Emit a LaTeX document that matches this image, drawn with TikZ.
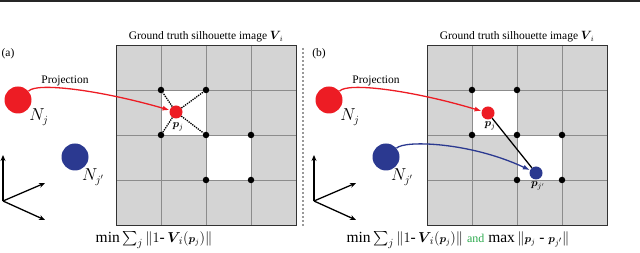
\documentclass[tikz,border=0pt]{standalone}
\usepackage{amsmath}
\usepackage{fontspec}
\setmainfont{Liberation Serif}
\usetikzlibrary{positioning, arrows.meta}
\definecolor{ptred}{HTML}{ED1C24}
\definecolor{ptblue}{HTML}{2B3990}
\definecolor{andgreen}{HTML}{2DAA4F}
\definecolor{cellgray}{HTML}{D4D4D4}
\begin{document}
\begin{tikzpicture}[x=1pt, y=-1pt, font=\fontsize{11.5}{13}\selectfont, bignode/.style={circle, minimum size=27pt, inner sep=0pt}, smallpt/.style={circle, minimum size=13pt, inner sep=0pt}, corner/.style={circle, fill=black, minimum size=6.5pt, inner sep=0pt}, gridline/.style={draw=black!45, line width=0.6pt}, proj/.style={-{Latex[length=7pt, width=5pt]}, line width=1.3pt}, axis/.style={-{Stealth[length=6pt, width=5pt]}, line width=1.3pt}, lab/.style={font=\fontsize{16}{18}\selectfont}, plab/.style={font=\fontsize{11}{12}\selectfont}, formula/.style={font=\fontsize{15.5}{17}\selectfont}]
\useasboundingbox (0,0) rectangle (640,253);
\draw[line width=1.6pt, black!85] (0,0.8) -- (640,0.8);
% panel (a)
\node at (8,54) {(a)};
\node (titlea) at (206,37) {Ground truth silhouette image $\boldsymbol{V}_{\!i}$};
\fill[cellgray] (116,45) rectangle (296,225);
\fill[white] (161,90) rectangle (206,135);
\fill[white] (206,135) rectangle (251,180);
\foreach \g in {161,206,251} \draw[gridline] (\g,45) -- (\g,225);
\foreach \g in {90,135,180} \draw[gridline] (116,\g) -- (296,\g);
\draw[line width=0.9pt, black!80] (116,45) rectangle (296,225);
\node[corner] (c1a) at (161,90) {};
\node[corner] (c2a) at (206,90) {};
\node[corner] (c3a) at (161,135) {};
\node[corner] (c4a) at (206,135) {};
\node[corner] (c5a) at (251,135) {};
\node[corner] (c6a) at (206,180) {};
\node[corner] (c7a) at (251,180) {};
\node[smallpt, fill=ptred] (pja) at (176,112) {};
\foreach \c in {c1a,c2a,c3a,c4a} \draw[densely dotted, line width=1.3pt] (pja) -- (\c);
\node[plab] at (178,127) {$\boldsymbol{p}_j$};
\node[bignode, fill=ptred] (Nja) at (18,100) {};
\node[lab] at (39,117) {$N_j$};
\node[bignode, fill=ptblue] (Njpa) at (75,157) {};
\node[lab] at (93,177) {$N_{j'}$};
\node at (65,81) {Projection};
\draw[proj, ptred] (Nja.40) .. controls (36,82) and (100,90) .. (pja);
\coordinate (Oa) at (3,201);
\coordinate (za) at (3,155);
\coordinate (xa) at (45,183);
\coordinate (ya) at (45,220);
\draw[axis] (Oa) -- (za);
\draw[axis] (Oa) -- (xa);
\draw[axis] (Oa) -- (ya);
\node[formula] at (154,240) {$\min\sum_j\|1\text{-}\,\boldsymbol{V}_{\!i}({\scriptstyle\boldsymbol{p}_j})\|$};
% separator
\draw[black!40, dotted, line width=2pt] (303,48) -- (303,226);
% panel (b)
\node at (319,54) {(b)};
\node (titleb) at (517,37) {Ground truth silhouette image $\boldsymbol{V}_{\!i}$};
\fill[cellgray] (427,45) rectangle (607,225);
\fill[white] (472,90) rectangle (517,135);
\fill[white] (517,135) rectangle (562,180);
\foreach \g in {472,517,562} \draw[gridline] (\g,45) -- (\g,225);
\foreach \g in {90,135,180} \draw[gridline] (427,\g) -- (607,\g);
\draw[line width=0.9pt, black!80] (427,45) rectangle (607,225);
\node[corner] (c1b) at (472,90) {};
\node[corner] (c2b) at (517,90) {};
\node[corner] (c3b) at (472,135) {};
\node[corner] (c4b) at (517,135) {};
\node[corner] (c5b) at (562,135) {};
\node[corner] (c6b) at (517,180) {};
\node[corner] (c7b) at (562,180) {};
\node[smallpt, fill=ptred] (pjb) at (488,113) {};
\node[smallpt, fill=ptblue] (pjpb) at (536,173) {};
\draw[line width=1.3pt] (pjb) -- (pjpb);
\node[plab] at (490,126) {$\boldsymbol{p}_j$};
\node[plab] at (538,186) {$\boldsymbol{p}_{j'}$};
\node[bignode, fill=ptred] (Njb) at (329,100) {};
\node[lab] at (350,117) {$N_j$};
\node[bignode, fill=ptblue] (Njpb) at (386,157) {};
\node[lab] at (402,177) {$N_{j'}$};
\node at (376,81) {Projection};
\draw[proj, ptred] (Njb.40) .. controls (347,82) and (411,90) .. (pjb);
\draw[proj, ptblue] (Njpb.40) .. controls (404,140) and (470,142) .. (pjpb);
\coordinate (Ob) at (314,201);
\coordinate (zb) at (314,155);
\coordinate (xb) at (356,183);
\coordinate (yb) at (356,220);
\draw[axis] (Ob) -- (zb);
\draw[axis] (Ob) -- (xb);
\draw[axis] (Ob) -- (yb);
\node[formula] at (458,240) {$\min\sum_j\|1\text{-}\,\boldsymbol{V}_{\!i}({\scriptstyle\boldsymbol{p}_j})\|$ {\color{andgreen}\fontsize{12}{13}\selectfont and} $\max\|{\scriptstyle\boldsymbol{p}_j}\text{ - }{\scriptstyle\boldsymbol{p}_{j'}}\|$};
\end{tikzpicture}
\end{document}
